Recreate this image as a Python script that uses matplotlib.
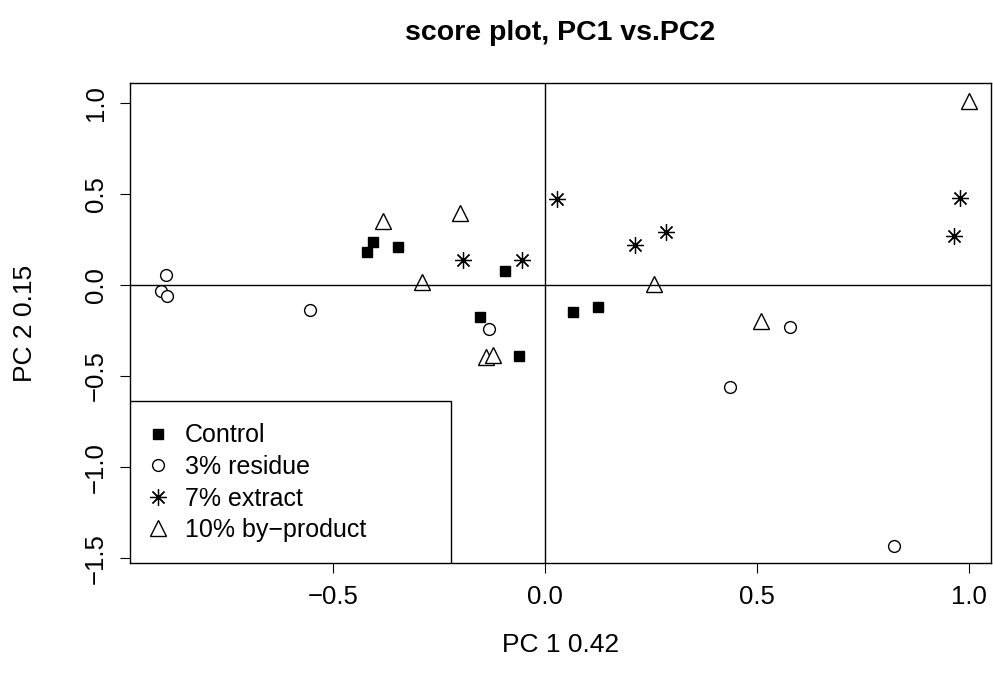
import matplotlib
matplotlib.use("Agg")
import matplotlib.pyplot as plt
from matplotlib.patches import Rectangle

plt.rcParams['font.family'] = ['Liberation Sans', 'DejaVu Sans']

control_x = [-0.42, -0.406, -0.347, -0.094, -0.153, -0.061, 0.066, 0.125]
control_y = [0.18, 0.236, 0.209, 0.077, -0.176, -0.39, -0.148, -0.121]
residue_x = [-0.894, -0.906, -0.892, -0.554, -0.132, 0.436, 0.578, 0.823]
residue_y = [0.055, -0.033, -0.06, -0.137, -0.242, -0.56, -0.23, -1.434]
extract_x = [-0.193, -0.054, 0.028, 0.212, 0.285, 0.965, 0.98]
extract_y = [0.137, 0.137, 0.473, 0.22, 0.29, 0.27, 0.48]
byprod_x = [-0.382, -0.2, -0.29, -0.139, -0.123, 0.257, 0.51, 1.0]
byprod_y = [0.35, 0.395, 0.016, -0.395, -0.385, 0.005, -0.2, 1.01]

labels = ['Control', '3% residue', '7% extract', '10% by\u2212product']

fig = plt.figure(figsize=(9.93, 6.81), dpi=100)
ax = fig.add_axes([130/993, 118/681, 861/993, 480/681])

ax.plot(control_x, control_y, 's', color='black', ms=7, ls='none', label=labels[0])
ax.plot(residue_x, residue_y, 'o', mfc='white', mec='black', ms=8.5, mew=1, ls='none', label=labels[1])
ax.plot(extract_x, extract_y, marker=(8, 2, 0), color='black', ms=12, mew=0.9, ls='none', label=labels[2])
ax.plot(byprod_x, byprod_y, '^', mfc='white', mec='black', ms=11, mew=1, ls='none', label=labels[3])

ax.axhline(0, color='black', lw=1)
ax.axvline(0, color='black', lw=1)

ax.set_xlim(-0.979, 1.052)
ax.set_ylim(-1.527, 1.11)
ax.set_xticks([-0.5, 0.0, 0.5, 1.0])
ax.set_yticks([-1.5, -1.0, -0.5, 0.0, 0.5, 1.0])
ax.set_xticklabels(['\u22120.5', '0.0', '0.5', '1.0'])
ax.set_yticklabels(['\u22121.5', '\u22121.0', '\u22120.5', '0.0', '0.5', '1.0'], rotation=90, va='center')
ax.tick_params(direction='out', length=7, labelsize=18.5, pad=9)
for s in ax.spines.values():
    s.set_linewidth(1)

ax.add_patch(Rectangle((0, 0), 321/861, 162/480, transform=ax.transAxes,
                       fill=True, facecolor='white', edgecolor='black', lw=1, zorder=3))
leg = ax.legend(loc='upper left', bbox_to_anchor=(-6/861, 157/480), frameon=False,
                fontsize=18, handletextpad=0.45, labelspacing=0.3, borderaxespad=0.3,
                handlelength=1.3)
leg.set_zorder(4)

fig.text(0.5 * (130 + 991) / 993, 1 - 33/681, 'score plot, PC1 vs.PC2',
         ha='center', va='center', fontsize=20.5, fontweight='bold')
fig.text(0.5 * (130 + 991) / 993, 1 - 645/681, 'PC 1 0.42', ha='center', va='center', fontsize=19)
fig.text(25/993, 1 - 323/681, 'PC 2 0.15', ha='center', va='center', rotation=90, fontsize=19)

fig.savefig('out.png', dpi=100)
